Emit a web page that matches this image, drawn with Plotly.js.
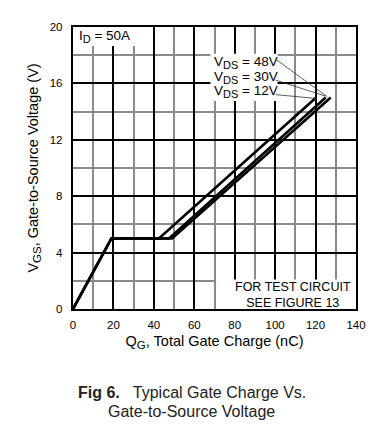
<!DOCTYPE html>
<html>
<head>
<meta charset="utf-8">
<script src="https://cdn.plot.ly/plotly-3.0.1.min.js"></script>
<style>html,body{margin:0;padding:0;background:#fff;}#chart{width:389px;height:432px;}</style>
</head>
<body>
<div id="chart"></div>
<script>
// Data
const qg12 = [0, 19, 42.5, 120.3];
const vgs12 = [0, 5, 5, 15];
const qg30 = [0, 19, 47.5, 125];
const vgs30 = [0, 5, 5, 15];
const qg48 = [0, 19, 49, 127.5];
const vgs48 = [0, 5, 5, 15];
const xTicks = [0, 20, 40, 60, 80, 100, 120, 140];
const yTicks = [0, 4, 8, 12, 16, 20];
const sub = (s, px) => '<sub><span style="font-size:' + px + 'px">' + s + '</span></sub>';
const seriesLabels = ['V' + sub('DS', 11) + ' = 48V', 'V' + sub('DS', 11) + ' = 30V', 'V' + sub('DS', 11) + ' = 12V'];

const FONT = 'Liberation Sans, Arial, sans-serif';
const lineStyle = {color: '#000', width: 2.6};

const traces = [
  {x: qg12, y: vgs12, mode: 'lines', line: lineStyle, hoverinfo: 'skip'},
  {x: qg30, y: vgs30, mode: 'lines', line: lineStyle, hoverinfo: 'skip'},
  {x: qg48, y: vgs48, mode: 'lines', line: lineStyle, hoverinfo: 'skip'}
];

// leader lines from label ends to curve ends
const leaderStart = [[100.5, 17.69], [100.3, 16.23], [100.4, 15.2]];
const leaderEnd = [[125.8, 15.05], [124.9, 15.1], [120.6, 14.93]];
const shapes = [
  // white masks over the grid
  {type: 'rect', xref: 'x', yref: 'y', x0: 0, x1: 33, y0: 18.65, y1: 20, fillcolor: '#fff', line: {width: 0}, layer: 'between'},
  {type: 'rect', xref: 'x', yref: 'y', x0: 68, x1: 101.2, y0: 14.75, y1: 18.1, fillcolor: '#fff', line: {width: 0}, layer: 'between'},
  {type: 'rect', xref: 'x', yref: 'y', x0: 70.8, x1: 140, y0: 0, y1: 2.1, fillcolor: '#fff', line: {width: 0}, layer: 'between'}
];
for (let i = 0; i < 3; i++) {
  shapes.push({type: 'line', xref: 'x', yref: 'y', x0: leaderStart[i][0], y0: leaderStart[i][1],
    x1: leaderEnd[i][0], y1: leaderEnd[i][1], line: {color: '#333', width: 0.8}, layer: 'above'});
}

const labelY = [17.45, 16.42, 15.43];
const annotations = seriesLabels.map((t, i) => ({
  text: t, xref: 'x', yref: 'y', x: 69.0, y: labelY[i], xanchor: 'left', yanchor: 'middle',
  showarrow: false, font: {family: FONT, size: 13.5, color: '#000'}
}));
annotations.push(
  {text: 'I' + sub('D', 11) + ' = 50A', xref: 'x', yref: 'y', x: 2.0, y: 19.3, xanchor: 'left', yanchor: 'middle',
   showarrow: false, font: {family: FONT, size: 13.5, color: '#000'}},
  {text: 'FOR TEST CIRCUIT<br>SEE FIGURE 13', xref: 'x', yref: 'y', x: 108.6, y: 1.0, xanchor: 'center', yanchor: 'middle',
   showarrow: false, align: 'center', font: {family: FONT, size: 12.5, color: '#000'}},
  {text: '<b>Fig 6.</b>&nbsp;&nbsp; Typical Gate Charge Vs.', xref: 'paper', yref: 'paper', x: 0.012, y: -0.295,
   xanchor: 'left', yanchor: 'middle', showarrow: false, font: {family: FONT, size: 16, color: '#222'}},
  {text: 'Gate-to-Source Voltage', xref: 'paper', yref: 'paper', x: 0.118, y: -0.363,
   xanchor: 'left', yanchor: 'middle', showarrow: false, font: {family: FONT, size: 16, color: '#222'}}
);

const layout = {
  width: 389, height: 432,
  margin: {l: 72.7, r: 33, t: 26.7, b: 122.7},
  paper_bgcolor: '#fff', plot_bgcolor: '#fff',
  showlegend: false,
  xaxis: {
    range: [0, 140], tickvals: xTicks, ticktext: xTicks.map(String),
    showgrid: true, gridcolor: '#000', gridwidth: 2,
    minor: {dtick: 10, showgrid: true, gridcolor: '#8a8a8a', gridwidth: 2},
    showline: true, mirror: true, linecolor: '#000', linewidth: 2.2,
    zeroline: false, ticks: '', ticklabelstandoff: 4,
    tickfont: {family: FONT, size: 11.5, color: '#000'},
    title: {text: 'Q' + sub('G', 11.5) + ', Total Gate Charge (nC)', standoff: 6, font: {family: FONT, size: 14.5, color: '#000'}}
  },
  yaxis: {
    range: [0, 20], tickvals: yTicks, ticktext: yTicks.map(String),
    showgrid: true, gridcolor: '#000', gridwidth: 2,
    minor: {dtick: 2, showgrid: true, gridcolor: '#8a8a8a', gridwidth: 2},
    showline: true, mirror: true, linecolor: '#000', linewidth: 2.2,
    zeroline: false, ticks: '', ticklabelstandoff: 6,
    tickfont: {family: FONT, size: 11.5, color: '#000'},
    title: {text: 'V' + sub('GS', 11.5) + ', Gate-to-Source Voltage (V)', standoff: 8, font: {family: FONT, size: 14.5, color: '#000'}}
  },
  shapes: shapes,
  annotations: annotations
};

Plotly.newPlot('chart', traces, layout, {displayModeBar: false, staticPlot: true});
</script>
</body>
</html>
